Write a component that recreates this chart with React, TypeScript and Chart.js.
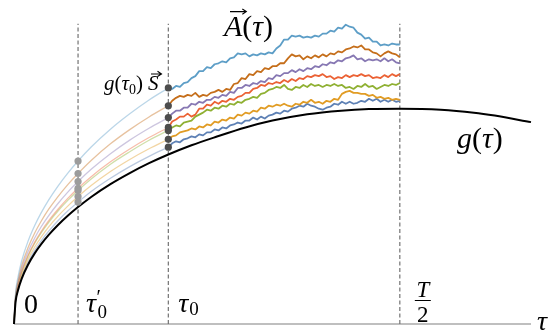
import { useEffect, useRef } from 'react';
import { Chart, registerables } from 'chart.js';

Chart.register(...registerables);

// ---- key abscissae (T = 1) ----
const TAU0_PRIME = 0.083;
const TAU0 = 0.2;
const T_HALF = 0.5;
const TAU_MAX = 0.67;
const DASH_TOP = 1.52;

// ---- g(tau) ----
const TAU_G = [0, 0.002, 0.005, 0.01, 0.018, 0.027, 0.035, 0.045, 0.057, 0.07, 0.083, 0.1, 0.125, 0.15, 0.175, 0.2, 0.23, 0.263, 0.3, 0.335, 0.38, 0.424, 0.46, 0.5, 0.553, 0.596, 0.623, 0.67];
const G_VALUES = [0, 0.111, 0.168, 0.23, 0.299, 0.359, 0.403, 0.451, 0.501, 0.549, 0.592, 0.643, 0.708, 0.764, 0.814, 0.858, 0.905, 0.949, 0.995, 1.03, 1.062, 1.08, 1.088, 1.09, 1.085, 1.07, 1.055, 1.022];

// ---- light curves from 0 to tau0 ----
const TAU_LIGHT = [0, 0.002, 0.005, 0.01, 0.018, 0.027, 0.035, 0.045, 0.057, 0.07, 0.083, 0.1, 0.125, 0.15, 0.175, 0.2];
const LIGHT_SKY = [0, 0.155, 0.234, 0.32, 0.417, 0.5, 0.561, 0.628, 0.698, 0.765, 0.825, 0.896, 0.986, 1.064, 1.134, 1.195];
const LIGHT_RUST = [0, 0.143, 0.216, 0.296, 0.385, 0.462, 0.519, 0.581, 0.645, 0.707, 0.762, 0.828, 0.912, 0.984, 1.048, 1.105];
const LIGHT_PURPLE = [0, 0.135, 0.205, 0.28, 0.364, 0.437, 0.491, 0.549, 0.61, 0.669, 0.721, 0.783, 0.862, 0.931, 0.991, 1.045];
const LIGHT_RED = [0, 0.129, 0.195, 0.267, 0.347, 0.416, 0.467, 0.523, 0.581, 0.637, 0.687, 0.746, 0.821, 0.886, 0.944, 0.995];
const LIGHT_GREEN = [0, 0.127, 0.192, 0.263, 0.341, 0.41, 0.46, 0.515, 0.572, 0.627, 0.676, 0.734, 0.809, 0.872, 0.93, 0.98];
const LIGHT_ORANGE = [0, 0.121, 0.183, 0.251, 0.326, 0.391, 0.439, 0.492, 0.546, 0.598, 0.645, 0.701, 0.772, 0.833, 0.887, 0.935];
const LIGHT_BLUE = [0, 0.116, 0.175, 0.24, 0.312, 0.374, 0.42, 0.47, 0.523, 0.573, 0.617, 0.671, 0.738, 0.797, 0.849, 0.895];

// ---- dots ----
const GREY_DOTS = [0.825, 0.762, 0.721, 0.687, 0.676, 0.645, 0.617];
const DARK_DOTS = [1.195, 1.105, 1.045, 0.995, 0.98, 0.935, 0.895];

// ---- random walks from tau0 to T/2 ----
const TAU_WALK = [0.2, 0.205, 0.21, 0.215, 0.22, 0.225, 0.23, 0.235, 0.24, 0.245, 0.25, 0.255, 0.26, 0.265, 0.27, 0.275, 0.28, 0.285, 0.29, 0.295, 0.3, 0.305, 0.31, 0.315, 0.32, 0.325, 0.33, 0.335, 0.34, 0.345, 0.35, 0.355, 0.36, 0.365, 0.37, 0.375, 0.38, 0.385, 0.39, 0.395, 0.4, 0.405, 0.41, 0.415, 0.42, 0.425, 0.43, 0.435, 0.44, 0.445, 0.45, 0.455, 0.46, 0.465, 0.47, 0.475, 0.48, 0.485, 0.49, 0.495, 0.5];
const WALK_SKY = [1.195, 1.19, 1.205, 1.2, 1.22, 1.225, 1.245, 1.255, 1.28, 1.28, 1.3, 1.295, 1.315, 1.32, 1.33, 1.325, 1.345, 1.35, 1.37, 1.365, 1.37, 1.355, 1.365, 1.36, 1.37, 1.365, 1.375, 1.37, 1.395, 1.41, 1.44, 1.44, 1.46, 1.455, 1.46, 1.45, 1.455, 1.45, 1.46, 1.455, 1.47, 1.47, 1.485, 1.48, 1.5, 1.495, 1.515, 1.505, 1.5, 1.475, 1.465, 1.445, 1.45, 1.43, 1.43, 1.41, 1.415, 1.41, 1.42, 1.415, 1.415];
const WALK_RUST = [1.105, 1.13, 1.145, 1.155, 1.15, 1.16, 1.155, 1.17, 1.15, 1.16, 1.155, 1.17, 1.175, 1.185, 1.175, 1.19, 1.185, 1.215, 1.22, 1.245, 1.24, 1.265, 1.26, 1.28, 1.275, 1.295, 1.29, 1.305, 1.305, 1.32, 1.32, 1.345, 1.365, 1.355, 1.36, 1.34, 1.355, 1.345, 1.36, 1.35, 1.365, 1.355, 1.37, 1.365, 1.38, 1.375, 1.39, 1.395, 1.405, 1.4, 1.41, 1.39, 1.39, 1.375, 1.37, 1.355, 1.37, 1.38, 1.37, 1.365, 1.35];
const WALK_PURPLE = [1.045, 1.065, 1.08, 1.08, 1.095, 1.095, 1.115, 1.11, 1.125, 1.12, 1.135, 1.135, 1.15, 1.145, 1.16, 1.155, 1.175, 1.17, 1.195, 1.195, 1.21, 1.205, 1.22, 1.215, 1.23, 1.225, 1.245, 1.24, 1.26, 1.255, 1.27, 1.27, 1.285, 1.275, 1.29, 1.28, 1.295, 1.29, 1.305, 1.3, 1.315, 1.31, 1.325, 1.32, 1.335, 1.33, 1.345, 1.35, 1.36, 1.34, 1.345, 1.33, 1.34, 1.335, 1.34, 1.33, 1.345, 1.33, 1.34, 1.325, 1.32];
const WALK_RED = [0.995, 1.025, 1.035, 1.05, 1.05, 1.065, 1.05, 1.06, 1.09, 1.09, 1.11, 1.105, 1.125, 1.115, 1.13, 1.125, 1.14, 1.135, 1.15, 1.155, 1.17, 1.17, 1.19, 1.195, 1.21, 1.205, 1.22, 1.215, 1.225, 1.22, 1.235, 1.225, 1.24, 1.23, 1.245, 1.24, 1.255, 1.25, 1.26, 1.255, 1.265, 1.25, 1.255, 1.24, 1.25, 1.245, 1.26, 1.25, 1.26, 1.255, 1.265, 1.255, 1.26, 1.245, 1.25, 1.245, 1.26, 1.25, 1.265, 1.255, 1.265];
const WALK_GREEN = [0.98, 0.995, 1.005, 1.0, 1.02, 1.025, 1.03, 1.05, 1.06, 1.07, 1.085, 1.08, 1.095, 1.09, 1.105, 1.1, 1.115, 1.11, 1.125, 1.12, 1.135, 1.14, 1.15, 1.145, 1.165, 1.17, 1.185, 1.19, 1.2, 1.195, 1.21, 1.19, 1.185, 1.2, 1.195, 1.21, 1.2, 1.215, 1.205, 1.21, 1.2, 1.21, 1.205, 1.215, 1.205, 1.21, 1.195, 1.2, 1.19, 1.205, 1.2, 1.215, 1.2, 1.205, 1.19, 1.2, 1.21, 1.205, 1.215, 1.21, 1.22];
const WALK_ORANGE = [0.935, 0.95, 0.955, 0.97, 0.975, 0.98, 0.99, 0.985, 1.0, 0.995, 1.01, 1.005, 1.025, 1.02, 1.035, 1.03, 1.045, 1.04, 1.06, 1.055, 1.07, 1.065, 1.08, 1.075, 1.095, 1.09, 1.105, 1.1, 1.11, 1.105, 1.115, 1.105, 1.1, 1.115, 1.11, 1.125, 1.12, 1.135, 1.12, 1.125, 1.115, 1.13, 1.125, 1.14, 1.135, 1.165, 1.175, 1.18, 1.17, 1.17, 1.165, 1.165, 1.155, 1.16, 1.145, 1.15, 1.14, 1.145, 1.135, 1.14, 1.135];
const WALK_BLUE = [0.895, 0.915, 0.925, 0.92, 0.935, 0.94, 0.95, 0.945, 0.96, 0.955, 0.97, 0.97, 0.985, 0.98, 0.995, 0.99, 1.005, 1.01, 1.02, 1.015, 1.03, 1.03, 1.045, 1.035, 1.05, 1.04, 1.055, 1.06, 1.07, 1.065, 1.08, 1.075, 1.09, 1.095, 1.105, 1.1, 1.115, 1.105, 1.1, 1.09, 1.085, 1.095, 1.1, 1.115, 1.11, 1.125, 1.115, 1.125, 1.115, 1.12, 1.13, 1.125, 1.14, 1.13, 1.14, 1.125, 1.135, 1.125, 1.135, 1.125, 1.13];

const COLORS = ['#5D9EC7', '#C56E1A', '#8778B3', '#EB6235', '#8FB032', '#E19C24', '#5E81B5'];
const LIGHT_SERIES = [LIGHT_SKY, LIGHT_RUST, LIGHT_PURPLE, LIGHT_RED, LIGHT_GREEN, LIGHT_ORANGE, LIGHT_BLUE];
const WALK_SERIES = [WALK_SKY, WALK_RUST, WALK_PURPLE, WALK_RED, WALK_GREEN, WALK_ORANGE, WALK_BLUE];

const SERIF = "'Liberation Serif', 'Times New Roman', 'DejaVu Serif', serif";

function hexA(hex: string, a: number) {
  const r = parseInt(hex.slice(1, 3), 16);
  const g = parseInt(hex.slice(3, 5), 16);
  const b = parseInt(hex.slice(5, 7), 16);
  return `rgba(${r},${g},${b},${a})`;
}

function seq(ctx: CanvasRenderingContext2D, x: number, y: number, parts: [string, string, number?][]) {
  for (const [t, f, dy] of parts) {
    ctx.font = f;
    ctx.fillText(t, x, y + (dy || 0));
    x += ctx.measureText(t).width;
  }
  return x;
}

function vecArrow(ctx: CanvasRenderingContext2D, x1: number, x2: number, y: number) {
  ctx.save();
  ctx.strokeStyle = '#000';
  ctx.lineWidth = 1.1;
  ctx.beginPath();
  ctx.moveTo(x1, y);
  ctx.lineTo(x2, y);
  ctx.moveTo(x2 - 4, y - 2.6);
  ctx.lineTo(x2, y);
  ctx.lineTo(x2 - 4, y + 2.6);
  ctx.stroke();
  ctx.restore();
}

const labelPlugin = {
  id: 'mathLabels',
  afterDatasetsDraw(chart: any) {
    const ctx: CanvasRenderingContext2D = chart.ctx;
    const xs = chart.scales.x;
    const ys = chart.scales.y;
    const x0 = xs.getPixelForValue(0);
    const xp = xs.getPixelForValue(TAU0_PRIME);
    const xt = xs.getPixelForValue(TAU0);
    const xh = xs.getPixelForValue(T_HALF);
    const base = ys.getPixelForValue(0);
    ctx.save();
    ctx.fillStyle = '#000';
    ctx.textBaseline = 'alphabetic';
    ctx.textAlign = 'left';
    const big = `28px ${SERIF}`;
    const bigI = `italic 28px ${SERIF}`;
    const huge = `30px ${SERIF}`;
    const hugeI = `italic 30px ${SERIF}`;
    const sub = `19px ${SERIF}`;

    // 0
    seq(ctx, x0 + 10, base - 11, [['0', big]]);
    // tau0'
    let e = seq(ctx, xp + 8, base - 12, [['τ', bigI]]);
    seq(ctx, e + 0.5, base - 20, [['′', `20px ${SERIF}`]]);
    seq(ctx, e + 1.5, base - 6, [['0', sub]]);
    // tau0
    e = seq(ctx, xt + 10, base - 12, [['τ', bigI]]);
    seq(ctx, e + 1, base - 9, [['0', sub]]);
    // T/2
    const cx = xh + 23;
    ctx.textAlign = 'center';
    ctx.font = `italic 23px ${SERIF}`;
    ctx.fillText('T', cx, base - 27);
    ctx.font = `23px ${SERIF}`;
    ctx.fillText('2', cx, base - 2);
    ctx.textAlign = 'left';
    ctx.strokeStyle = '#000';
    ctx.lineWidth = 1;
    ctx.beginPath();
    ctx.moveTo(cx - 8, base - 23.5);
    ctx.lineTo(cx + 8, base - 23.5);
    ctx.stroke();
    // tau axis label
    seq(ctx, 537, base + 6, [['τ', bigI]]);
    // g(tau)
    seq(ctx, 457, ys.getPixelForValue(0.89), [['g', hugeI], ['(', huge], ['τ', hugeI], [')', huge]]);
    // A(tau)
    const ay = ys.getPixelForValue(1.46);
    const aStart = 224;
    ctx.font = hugeI;
    const aw = ctx.measureText('A').width;
    seq(ctx, aStart, ay, [['A', hugeI], ['(', huge], ['τ', hugeI], [')', huge]]);
    vecArrow(ctx, aStart + 6, aStart + aw + 4, ay - 24);
    // g(tau0) S
    const gy = ys.getPixelForValue(1.185);
    const f = `21px ${SERIF}`;
    const fI = `italic 21px ${SERIF}`;
    e = seq(ctx, 104, gy, [['g', fI], ['(', f], ['τ', fI], ['0', `14px ${SERIF}`, 4], [')', f]]);
    const sx = e + 5;
    ctx.font = fI;
    const sw = ctx.measureText('S').width;
    seq(ctx, sx, gy, [['S', fI]]);
    vecArrow(ctx, sx + 3, sx + sw + 3, gy - 16);
    ctx.restore();
  },
};

export default function App() {
  const ref = useRef<HTMLCanvasElement>(null);
  useEffect(() => {
    document.body.style.margin = '0';
    const pts = (xs: number[], ys: number[]) => xs.map((x, i) => ({ x, y: ys[i] }));
    const datasets: any[] = [];
    datasets.push({
      data: DARK_DOTS.map((y) => ({ x: TAU0, y })),
      showLine: false,
      pointRadius: 3.6,
      pointBackgroundColor: '#4d4d4d',
      pointBorderWidth: 0,
    });
    datasets.push({
      data: GREY_DOTS.map((y) => ({ x: TAU0_PRIME, y })),
      showLine: false,
      pointRadius: 3.6,
      pointBackgroundColor: '#9c9c9c',
      pointBorderWidth: 0,
    });
    WALK_SERIES.forEach((s, i) => {
      datasets.push({
        data: pts(TAU_WALK, s),
        borderColor: COLORS[i],
        borderWidth: 1.8,
        pointRadius: 0,
        tension: 0,
        borderJoinStyle: 'round',
      });
    });
    datasets.push({
      data: pts(TAU_G, G_VALUES),
      borderColor: '#000',
      borderWidth: 2,
      pointRadius: 0,
      cubicInterpolationMode: 'monotone',
    });
    LIGHT_SERIES.forEach((s, i) => {
      datasets.push({
        data: pts(TAU_LIGHT, s),
        borderColor: hexA(COLORS[i], 0.42),
        borderWidth: 1.3,
        pointRadius: 0,
        cubicInterpolationMode: 'monotone',
      });
    });
    [TAU0_PRIME, TAU0, T_HALF].forEach((t) => {
      datasets.push({
        data: [{ x: t, y: 0 }, { x: t, y: DASH_TOP }],
        borderColor: '#737373',
        borderWidth: 1.2,
        borderDash: [4, 2.5],
        pointRadius: 0,
      });
    });
    datasets.push({
      data: [{ x: 0, y: 0 }, { x: TAU_MAX, y: 0 }],
      borderColor: '#808080',
      borderWidth: 1.2,
      pointRadius: 0,
    });
    datasets.forEach((d) => { d.clip = false; d.fill = false; });

    const chart = new Chart(ref.current!, {
      type: 'line',
      data: { datasets },
      options: {
        responsive: false,
        animation: false,
        events: [],
        layout: { padding: { left: 14, right: 17, top: 0, bottom: 11 } },
        scales: {
          x: { type: 'linear', min: 0, max: TAU_MAX, display: false },
          y: { type: 'linear', min: 0, max: 1.62, display: false },
        },
        plugins: { legend: { display: false }, tooltip: { enabled: false } },
      },
      plugins: [labelPlugin],
    } as any);
    return () => chart.destroy();
  }, []);
  return (
    <div style={{ position: 'absolute', left: 0, top: 0, width: 548, height: 335, background: '#fff' }}>
      <canvas ref={ref} width={548} height={335} style={{ display: 'block', width: 548, height: 335 }} />
    </div>
  );
}
